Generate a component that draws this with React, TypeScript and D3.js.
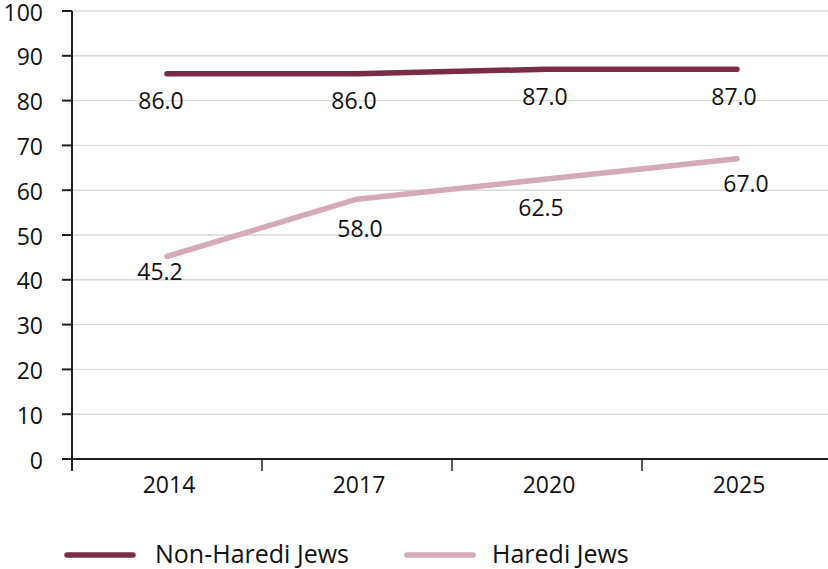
import React from "react";
import * as d3 from "d3";

const years = ["2014", "2017", "2020", "2025"];
const nonHarediValues = [86.0, 86.0, 87.0, 87.0];
const harediValues = [45.2, 58.0, 62.5, 67.0];
const seriesNames = ["Non-Haredi Jews", "Haredi Jews"];
const yTicks = [0, 10, 20, 30, 40, 50, 60, 70, 80, 90, 100];

// layout-only nudges for value labels (dx, dy from point)
const nonHarediLabelNudge = [[-6, 35.5], [-3, 35.5], [-2, 35.5], [-3, 35.5]];
const harediLabelNudge = [[-7, 23.5], [3, 37.5], [-6, 36.5], [9, 33.5]];

const W = 828;
const H = 569;
const FONT = "'Open Sans', 'Noto Sans', sans-serif";
const colors = ["#7A2B46", "#D3AAB5"];

export default function App() {
  const x = d3.scaleBand<string>().domain(years).range([72, 832]);
  const y = d3.scaleLinear().domain([0, 100]).range([459, 11]);
  const cx = (yr: string) => (x(yr) as number) + x.bandwidth() / 2;

  const line = d3
    .line<number>()
    .x((_, i) => cx(years[i]))
    .y((d) => y(d));

  const series = [
    { name: seriesNames[0], values: nonHarediValues, nudge: nonHarediLabelNudge, color: colors[0] },
    { name: seriesNames[1], values: harediValues, nudge: harediLabelNudge, color: colors[1] },
  ];

  const edges = years.map((yr) => x(yr) as number);

  return (
    <div style={{ position: "fixed", left: 0, top: 0, width: W, height: H, background: "#fff" }}>
      <svg width={W} height={H} style={{ display: "block", fontFamily: FONT }}>
        {/* gridlines */}
        {yTicks.filter((t) => t > 0).map((t) => (
          <line key={"g" + t} x1={72} x2={W} y1={y(t)} y2={y(t)} stroke="#D9D9D9" strokeWidth={1.4} />
        ))}
        {/* y axis */}
        <line x1={72} x2={72} y1={y(100)} y2={471} stroke="#231F20" strokeWidth={2} />
        {yTicks.map((t) => (
          <g key={"yt" + t}>
            <line x1={62} x2={72} y1={y(t)} y2={y(t)} stroke="#231F20" strokeWidth={2} />
            <text x={43} y={y(t) + 9.5} textAnchor="end" fontSize={23} fill="#111">
              {t}
            </text>
          </g>
        ))}
        {/* x axis */}
        <line x1={72} x2={W} y1={y(0)} y2={y(0)} stroke="#231F20" strokeWidth={2} />
        {edges.map((e, i) => (
          <line key={"xt" + i} x1={e} x2={e} y1={y(0)} y2={471} stroke="#231F20" strokeWidth={1.5} />
        ))}
        {years.map((yr) => (
          <text key={"xl" + yr} x={cx(yr) + 2} y={493} textAnchor="middle" fontSize={23} fill="#111">
            {yr}
          </text>
        ))}
        {/* lines */}
        {series.map((s) => (
          <path
            key={"l" + s.name}
            d={line(s.values) as string}
            fill="none"
            stroke={s.color}
            strokeWidth={5.5}
            strokeLinecap="round"
            strokeLinejoin="round"
          />
        ))}
        {/* labels */}
        {series.map((s) =>
          s.values.map((v, i) => (
            <text
              key={"v" + s.name + i}
              x={cx(years[i]) + s.nudge[i][0]}
              y={y(v) + s.nudge[i][1]}
              textAnchor="middle"
              fontSize={23}
              fill="#111"
            >
              {v.toFixed(1)}
            </text>
          ))
        )}
        {/* legend */}
        {series.map((s, i) => {
          const lx = i === 0 ? 67 : 407;
          const tx = i === 0 ? 155 : 492;
          return (
            <g key={"lg" + s.name}>
              <line x1={lx} x2={lx + 66} y1={555} y2={555} stroke={s.color} strokeWidth={5.5} strokeLinecap="round" />
              <text x={tx} y={563} fontSize={25} fill="#111">
                {s.name}
              </text>
            </g>
          );
        })}
      </svg>
    </div>
  );
}
